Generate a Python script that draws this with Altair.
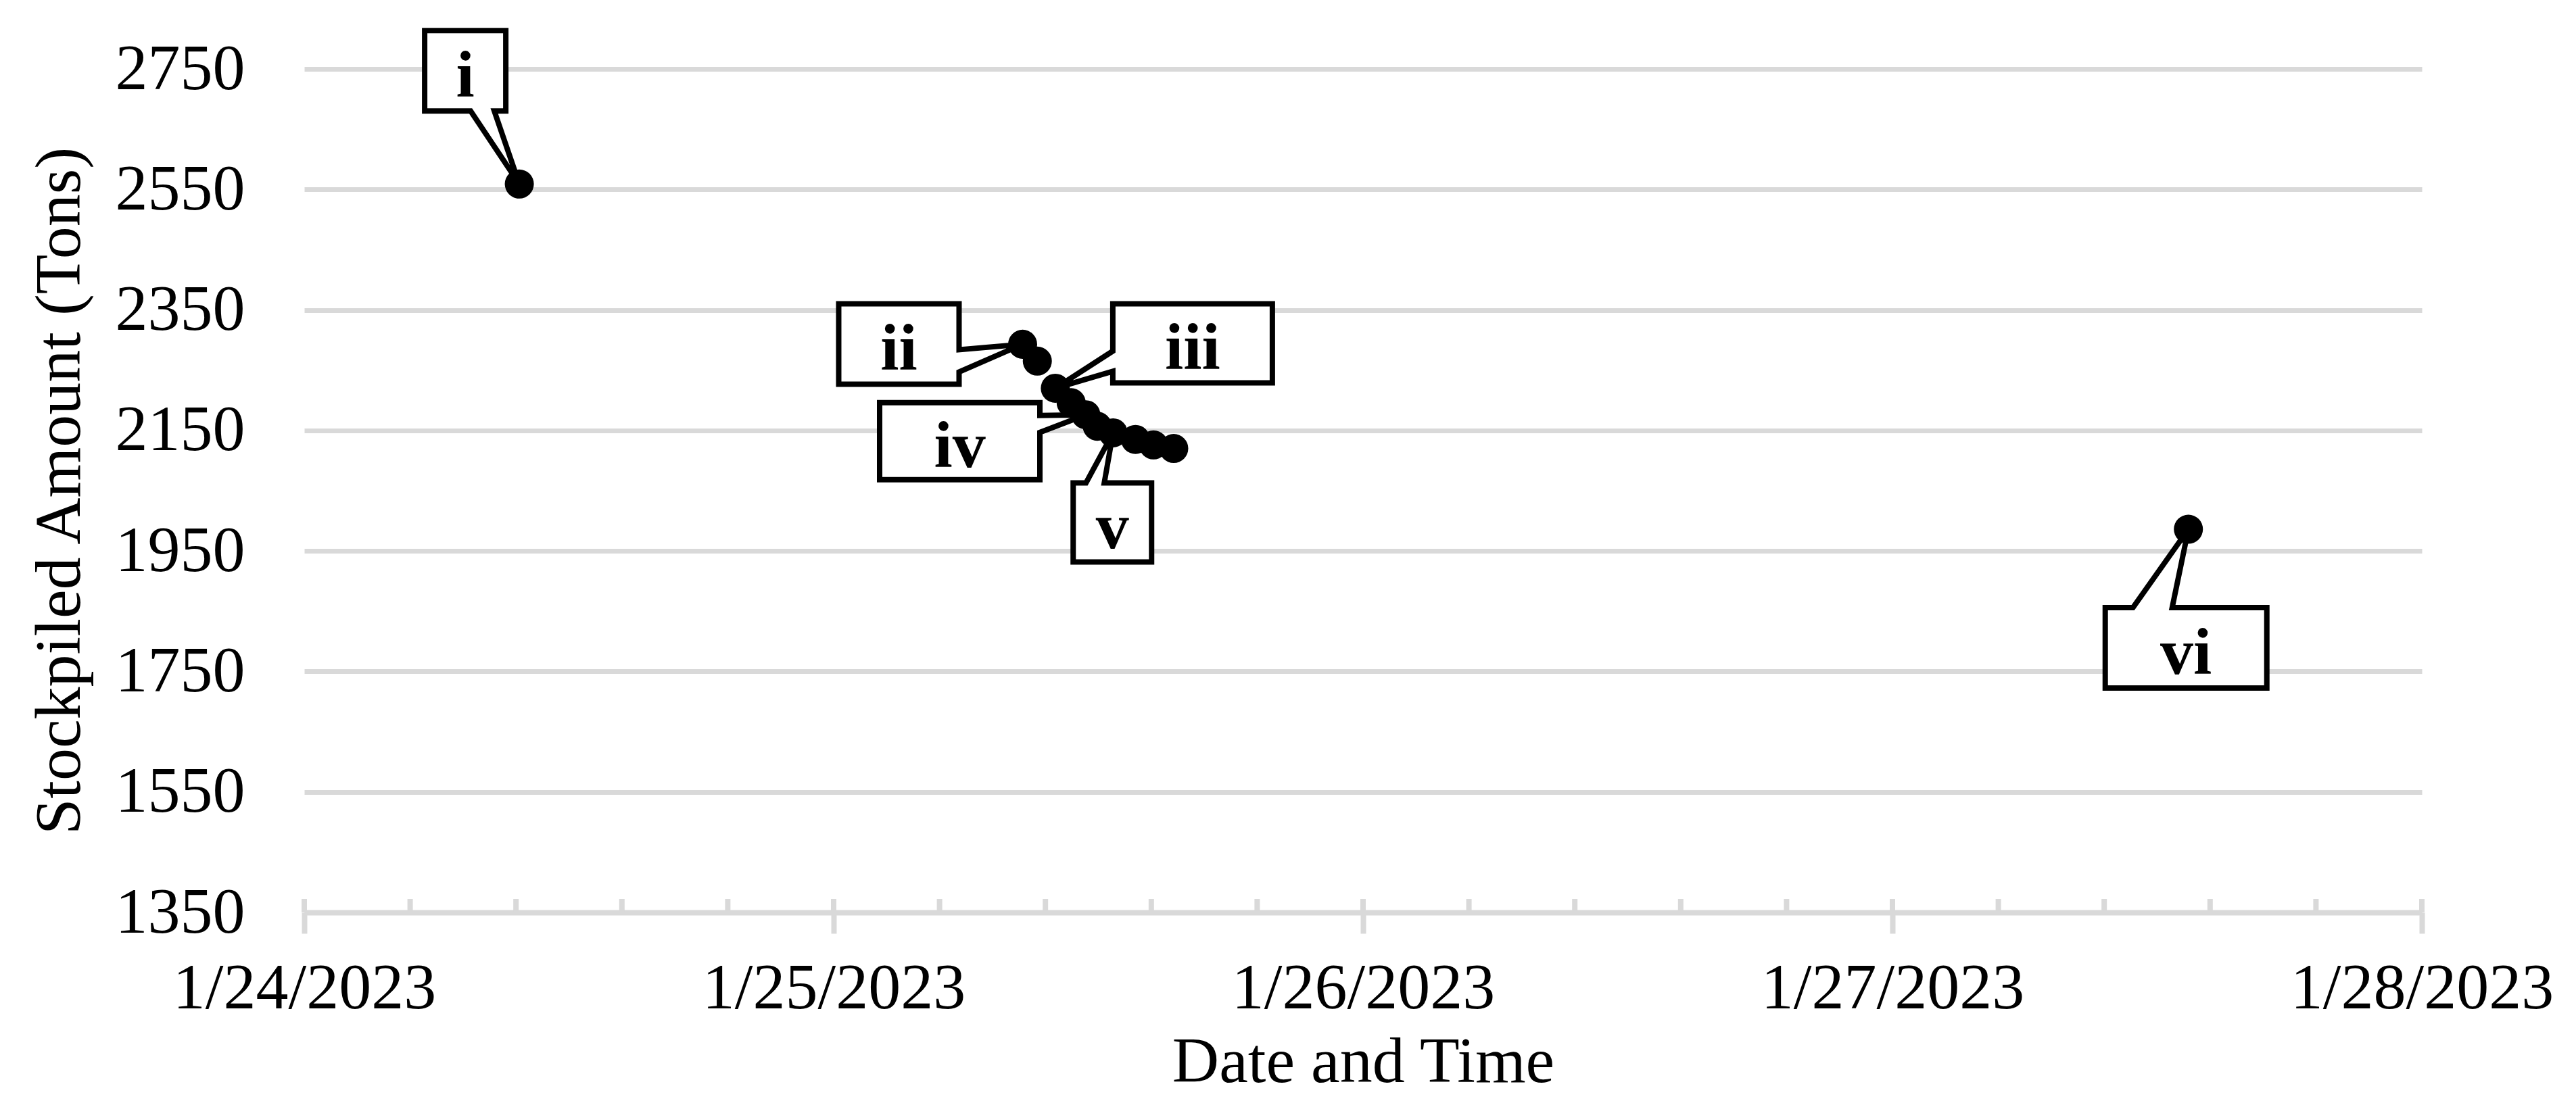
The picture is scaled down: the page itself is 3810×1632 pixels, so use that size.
import altair as alt
import pandas as pd

# ---------------- data ----------------
dates = [
    "2023-01-24T09:45:00",
    "2023-01-25T08:34:00", "2023-01-25T09:14:00", "2023-01-25T10:03:00",
    "2023-01-25T10:46:00", "2023-01-25T11:26:00", "2023-01-25T11:57:00",
    "2023-01-25T12:40:00", "2023-01-25T13:41:00", "2023-01-25T14:30:00",
    "2023-01-25T15:25:00",
    "2023-01-27T13:25:00",
]
amounts = [2559, 2293, 2265, 2220, 2196, 2176, 2157, 2146, 2135, 2126, 2120, 1986]
point_labels = ["i", "ii", "", "iii", "", "iv", "", "v", "", "", "", "vi"]

y_ticks = [1350, 1550, 1750, 1950, 2150, 2350, 2550, 2750]
x_tick_days = [24, 25, 26, 27, 28]

# ---------------- styling ----------------
FONT = "Liberation Serif"
GRID = "#d9d9d9"
PLOT_W, PLOT_H = 3132, 1248

# callout geometry in pixels relative to the labelled point (tip at 0,0)
CALLOUTS = {
    "i":   dict(box=(-140, -20, -227, -108), side="bottom", base=(-72, -37)),
    "ii":  dict(box=(-272, -94, -60, 59), side="right", base=(8, 41)),
    "iii": dict(box=(85, 321, -125, -8), side="left", base=(-55, -25)),
    "iv":  dict(box=(-305, -68, -18, 96), side="right", base=(1, 26)),
    "v":   dict(box=(-59, 57, 74, 191), side="top", base=(-40, -13)),
    "vi":  dict(box=(-123, 116, 116, 235), side="top", base=(-82, -24)),
}


def callout_path(box, side, base):
    x0, x1, y0, y1 = box
    a, b = base
    if side == "bottom":
        pts = [(x0, y0), (x1, y0), (x1, y1), (b, y1), (0, 0), (a, y1), (x0, y1)]
    elif side == "top":
        pts = [(x0, y0), (a, y0), (0, 0), (b, y0), (x1, y0), (x1, y1), (x0, y1)]
    elif side == "right":
        pts = [(x0, y0), (x1, y0), (x1, a), (0, 0), (x1, b), (x1, y1), (x0, y1)]
    else:
        pts = [(x0, y0), (x1, y0), (x1, y1), (x0, y1), (x0, b), (0, 0), (x0, a)]
    return "M" + "L".join(f"{x},{y}" for x, y in pts) + "Z"


df = pd.DataFrame({"date": dates, "amount": amounts, "label": point_labels})

minor = pd.date_range("2023-01-24", "2023-01-28", freq="288min")
minor_df = pd.DataFrame({"date": minor.strftime("%Y-%m-%dT%H:%M:%S")})

x_enc = alt.X(
    "date:T",
    scale=alt.Scale(domain=[alt.DateTime(year=2023, month=1, date=24),
                            alt.DateTime(year=2023, month=1, date=28)]),
    axis=alt.Axis(
        values=[alt.DateTime(year=2023, month=1, date=d) for d in x_tick_days],
        format="%-m/%-d/%Y",
        grid=False,
        domainColor=GRID, domainWidth=8,
        tickColor=GRID, tickWidth=8, tickSize=31,
        labelFont=FONT, labelFontSize=96, labelColor="black",
        labelPadding=110, labelBaseline="alphabetic",
        labelFlush=False, labelOverlap=False, labelLimit=0,
        title="Date and Time", titleFont=FONT, titleFontSize=96,
        titleFontWeight="normal", titleColor="black",
        titleY=250, titleBaseline="alphabetic", titleLimit=0,
    ),
)
y_enc = alt.Y(
    "amount:Q",
    scale=alt.Scale(domain=[1350, 2750], nice=False, zero=False),
    axis=alt.Axis(
        values=y_ticks, format="d",
        grid=True, gridColor=GRID, gridWidth=7,
        domain=False, ticks=False, tickSize=0,
        labelFont=FONT, labelFontSize=96, labelColor="black", labelPadding=88,
        labelLimit=0, labelOverlap=False,
        title="Stockpiled Amount (Tons)", titleFont=FONT, titleFontSize=96,
        titleFontWeight="normal", titleColor="black", titleLimit=0,
        titleAngle=270, titleBaseline="alphabetic", titleX=-333,
    ),
)

minor_ticks = alt.Chart(minor_df).mark_rule(color=GRID, strokeWidth=8).encode(
    x=x_enc, y=alt.value(PLOT_H - 20), y2=alt.value(PLOT_H)
)

layers = [minor_ticks]
for lab, geo in CALLOUTS.items():
    sub = df[df["label"] == lab]
    x0, x1, y0, y1 = geo["box"]
    shape = alt.Chart(sub).mark_point(
        shape=callout_path(geo["box"], geo["side"], geo["base"]),
        size=4, filled=True, fill="white", stroke="black", strokeWidth=8,
        opacity=1, fillOpacity=1, strokeOpacity=1, strokeJoin="miter",
    ).encode(x=x_enc, y=y_enc)
    text = alt.Chart(sub).mark_text(
        dx=(x0 + x1) / 2, dy=(y0 + y1) / 2 + 38,
        font=FONT, fontSize=98, fontWeight="bold", color="black",
        align="center", baseline="alphabetic",
    ).encode(x=x_enc, y=y_enc, text="label:N")
    layers += [shape, text]

points = alt.Chart(df).mark_circle(size=1850, color="black", opacity=1).encode(
    x=x_enc, y=y_enc
)
layers.append(points)

chart = alt.layer(*layers).properties(
    width=PLOT_W, height=PLOT_H,
    autosize=alt.AutoSizeParams(type="none"),
    padding={"left": 442, "top": 94, "right": 220, "bottom": 274},
    background="white",
).configure_view(stroke="transparent")

chart.save("out.html", embed_options={"renderer": "svg", "actions": False})
